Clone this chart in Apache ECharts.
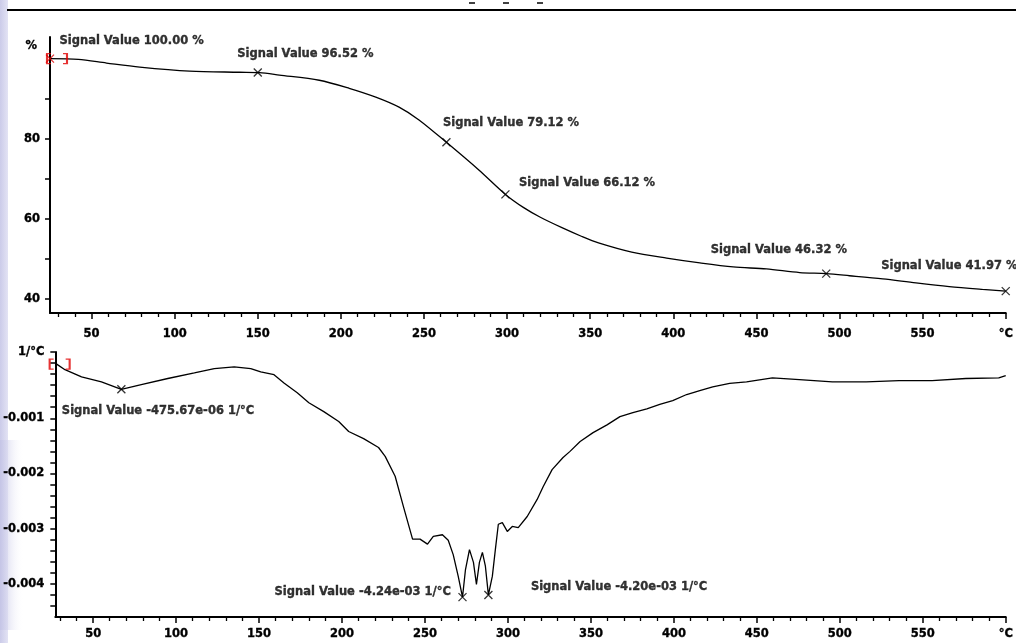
<!DOCTYPE html>
<html>
<head>
<meta charset="utf-8">
<script src="https://cdn.jsdelivr.net/npm/echarts@6/dist/echarts.min.js"></script>
<style>html,body{margin:0;padding:0;background:#fff;}#c{width:1016px;height:643px;}</style>
</head>
<body>
<div id="c"></div>
<script>
// ---- TGA curve (mass %, vs temperature °C)
const tgaTemp = [25, 42, 59, 79, 109, 139, 151, 163, 187, 205, 221, 235, 247, 263.5, 283, 299, 310, 320, 333, 345, 355, 375, 396, 416, 436, 456, 476, 492, 506, 526, 546, 566, 586, 600];
const tgaMass = [100.0, 99.8, 98.9, 97.9, 96.9, 96.6, 96.5, 95.9, 94.6, 92.6, 90.4, 87.9, 84.7, 79.1, 72.2, 66.1, 62.8, 60.4, 57.8, 55.6, 54.0, 51.7, 50.2, 49.0, 48.0, 47.5, 46.6, 46.32, 45.8, 45.0, 44.0, 43.1, 42.4, 41.97];

// ---- DTG curve (1/°C)
const dtgTemp = [28, 33, 43, 55, 67, 79, 95, 111, 123, 135, 145, 151, 159, 165, 173, 180, 189, 198, 204, 213, 222, 226, 232, 237, 242.5, 247, 251.5, 255, 260.5, 264, 267, 270, 272.6, 274.4, 276.8, 279.2, 281, 282.8, 284.6, 286.4, 288.2, 290.6, 292.4, 294.2, 296.6, 299.6, 302.6, 306.2, 311.6, 317.6, 321.2, 326.6, 333.2, 337.4, 343.5, 351.3, 359.7, 367.5, 375.3, 383.7, 391.5, 399.3, 407.7, 415.6, 423.4, 433.6, 443.8, 459.4, 475.6, 495.5, 515.9, 535.7, 555.6, 576, 595.8, 600];
const dtgRate = [-0.00002, -0.00012, -0.00025, -0.00034, -0.000476, -0.00039, -0.00028, -0.00018, -0.00010, -0.00007, -0.00010, -0.00016, -0.00021, -0.00036, -0.00054, -0.00072, -0.00088, -0.00106, -0.00124, -0.00137, -0.00153, -0.00169, -0.00205, -0.00260, -0.00319, -0.00319, -0.00328, -0.00314, -0.00311, -0.00321, -0.00347, -0.00386, -0.00424, -0.00374, -0.00338, -0.00361, -0.00401, -0.00361, -0.00343, -0.00368, -0.00420, -0.00386, -0.00338, -0.00292, -0.00289, -0.00305, -0.00296, -0.00298, -0.00278, -0.00247, -0.00224, -0.00193, -0.00171, -0.00160, -0.00142, -0.00126, -0.00112, -0.00097, -0.00090, -0.00083, -0.00075, -0.00068, -0.00057, -0.00050, -0.00043, -0.00037, -0.00034, -0.00027, -0.00030, -0.00034, -0.00034, -0.00032, -0.00032, -0.00028, -0.00027, -0.00023];

// ---- annotated points
const tgaMarkTemp = [25, 150, 263.5, 299, 492, 600];
const tgaMarkMass = [100.00, 96.52, 79.12, 66.12, 46.32, 41.97];
const tgaMarkText = ['Signal Value 100.00 %', 'Signal Value 96.52 %', 'Signal Value 79.12 %', 'Signal Value 66.12 %', 'Signal Value 46.32 %', 'Signal Value 41.97 %'];
const dtgMarkTemp = [67, 272.6, 288.2];
const dtgMarkRate = [-0.00047567, -0.00424, -0.00420];
const dtgMarkText = ['Signal Value -475.67e-06 1/°C', 'Signal Value -4.24e-03 1/°C', 'Signal Value -4.20e-03 1/°C'];

// ---- ticks and tick labels
const xMajorTicks = [50, 100, 150, 200, 250, 300, 350, 400, 450, 500, 550, 600];
const xTickLabels = ['50', '100', '150', '200', '250', '300', '350', '400', '450', '500', '550', '°C'];
const xMinorTicks = [30, 40, 60, 70, 80, 90, 110, 120, 130, 140, 160, 170, 180, 190, 210, 220, 230, 240, 260, 270, 280, 290, 310, 320, 330, 340, 360, 370, 380, 390, 410, 420, 430, 440, 460, 470, 480, 490, 510, 520, 530, 540, 560, 570, 580, 590];
const tgaYTicks = [40, 50, 60, 70, 80, 90];
const tgaYLabelValues = [40, 60, 80];
const tgaYLabels = ['40', '60', '80'];
const dtgYTicks = [-0.0044, -0.0042, -0.004, -0.0038, -0.0036, -0.0034, -0.0032, -0.003, -0.0028, -0.0026, -0.0024, -0.0022, -0.002, -0.0018, -0.0016, -0.0014, -0.0012, -0.001, -0.0008, -0.0006, -0.0004, -0.0002, 0, 0.0002];
const dtgYLabelValues = [-0.004, -0.003, -0.002, -0.001, 0.0002];
const dtgYLabels = ['-0.004', '-0.003', '-0.002', '-0.001', '1/°C'];

// ---- styles (not data)
const FONT = 'DejaVu Sans';
const tgaLabelOffset = [[12, -15, 'left'], [-18, -16, 'left'], [-1, -17, 'left'], [16, -9, 'left'], [-113, -21, 'left'], [-122, -23, 'left']];
const dtgLabelOffset = [[-57, 24, 'left'], [-9, -3, 'right'], [45, -5, 'left']];
const crossPath = 'path://M0,0L10,10M10,0L0,10';
const bracketPath = 'path://M4,0L0,0L0,10L4,10M16,0L20,0L20,10L16,10';
const textStyle = { fontFamily: FONT, fontWeight: 'bold', fontSize: 11.5, color: '#000', textBorderColor: '#000', textBorderWidth: 0.35 };

function pair(xs, ys) { return xs.map((x, i) => [x, ys[i]]); }
function lookup(vals, labels) {
  return function (v) {
    for (let i = 0; i < vals.length; i++) if (Math.abs(vals[i] - v) < 1e-9) return labels[i];
    return '';
  };
}
function markData(xs, ys, texts, offs, sz, firstRed) {
  return xs.map((x, i) => ({
    value: [x, ys[i]],
    itemStyle: (firstRed && i === 0) ? { color: 'none', borderColor: '#e00000', borderWidth: 1.3 } : undefined,
    label: {
      show: true, formatter: texts[i],
      position: [offs[i][0] + sz / 2, offs[i][1] + sz / 2],
      align: offs[i][2], verticalAlign: 'middle',
      ...textStyle
    }
  }));
}

const lineStyleAxis = { color: '#000', width: 2 };

function xMain(gridIndex, min, margin) {
  return {
    type: 'value', gridIndex, min, max: 600, position: 'bottom',
    axisLine: { show: true, onZero: false, lineStyle: lineStyleAxis },
    axisTick: { show: true, customValues: xMajorTicks, length: 6, lineStyle: { color: '#000', width: 1.5 } },
    axisLabel: { show: true, customValues: xMajorTicks, formatter: lookup(xMajorTicks, xTickLabels), margin, ...textStyle },
    splitLine: { show: false }
  };
}
function xMinor(gridIndex, min) {
  return {
    type: 'value', gridIndex, min, max: 600, position: 'bottom', offset: 0,
    axisLine: { show: false, onZero: false },
    axisTick: { show: true, customValues: xMinorTicks, length: 4, lineStyle: { color: '#000', width: 1.3 } },
    axisLabel: { show: false },
    splitLine: { show: false }
  };
}

const option = {
  animation: false,
  backgroundColor: '#ffffff',
  graphic: [
    { type: 'rect', z: -10, shape: { x: 0, y: 0, width: 8, height: 643 },
      style: { fill: { type: 'linear', x: 0, y: 0, x2: 1, y2: 0, colorStops: [{ offset: 0, color: '#cbcbe9' }, { offset: 1, color: '#e3e3f4' }] } } },
    { type: 'rect', z: -10, shape: { x: 0, y: 440, width: 24, height: 190 },
      style: { fill: { type: 'linear', x: 0, y: 0, x2: 1, y2: 0, colorStops: [{ offset: 0, color: 'rgba(196,196,230,0.9)' }, { offset: 1, color: 'rgba(255,255,255,0)' }] } } },
    { type: 'line', shape: { x1: 7, y1: 10, x2: 1016, y2: 10 }, style: { stroke: '#000', lineWidth: 2 } },
    { type: 'line', shape: { x1: 469, y1: 3, x2: 475, y2: 3 }, style: { stroke: '#000', lineWidth: 1.5 } },
    { type: 'line', shape: { x1: 503, y1: 3, x2: 509, y2: 3 }, style: { stroke: '#000', lineWidth: 1.5 } },
    { type: 'line', shape: { x1: 537, y1: 3, x2: 543, y2: 3 }, style: { stroke: '#000', lineWidth: 1.5 } }
  ],
  grid: [
    { left: 50, top: 37, width: 957, height: 276 },
    { left: 54, top: 352, width: 953, height: 265 }
  ],
  xAxis: [xMain(0, 25, 15), xMinor(0, 25), xMain(1, 27.2, 11), xMinor(1, 27.2)],
  yAxis: [
    {
      type: 'value', gridIndex: 0, min: 36.5, max: 105.4,
      name: '%', nameLocation: 'end', nameGap: -3,
      nameTextStyle: { ...textStyle, align: 'right', verticalAlign: 'top', padding: [0, 13, 0, 0] },
      axisLine: { show: true, lineStyle: lineStyleAxis },
      axisTick: { show: true, customValues: tgaYTicks, length: 5, lineStyle: { color: '#000', width: 1.5 } },
      axisLabel: { show: true, customValues: tgaYLabelValues, formatter: lookup(tgaYLabelValues, tgaYLabels), margin: 10, ...textStyle },
      splitLine: { show: false }
    },
    {
      type: 'value', gridIndex: 1, min: -0.0046, max: 0.0002,
      axisLine: { show: true, onZero: false, lineStyle: lineStyleAxis },
      axisTick: { show: true, customValues: dtgYTicks, length: 5, lineStyle: { color: '#000', width: 1.5 } },
      axisLabel: { show: true, customValues: dtgYLabelValues, formatter: lookup(dtgYLabelValues, dtgYLabels), margin: 11, ...textStyle },
      splitLine: { show: false }
    }
  ],
  series: [
    { type: 'line', xAxisIndex: 0, yAxisIndex: 0, data: pair(tgaTemp, tgaMass), showSymbol: false, smooth: 0.3,
      lineStyle: { color: '#000', width: 1.3 }, z: 3 },
    { type: 'scatter', xAxisIndex: 0, yAxisIndex: 0, symbol: crossPath, symbolSize: 8,
      itemStyle: { color: 'none', borderColor: '#000', borderWidth: 1.3 },
      data: markData(tgaMarkTemp, tgaMarkMass, tgaMarkText, tgaLabelOffset, 8, true), z: 4 },
    { type: 'scatter', xAxisIndex: 0, yAxisIndex: 0, symbol: bracketPath, symbolSize: [20, 10], symbolOffset: [7, 0],
      itemStyle: { color: 'none', borderColor: '#e00000', borderWidth: 1.5 },
      data: [[tgaTemp[0], tgaMass[0]]], z: 5 },
    { type: 'line', xAxisIndex: 2, yAxisIndex: 1, data: pair(dtgTemp, dtgRate), showSymbol: false, smooth: false,
      lineStyle: { color: '#000', width: 1.3 }, z: 3 },
    { type: 'scatter', xAxisIndex: 2, yAxisIndex: 1, symbol: crossPath, symbolSize: 8,
      itemStyle: { color: 'none', borderColor: '#000', borderWidth: 1.3 },
      data: markData(dtgMarkTemp, dtgMarkRate, dtgMarkText, dtgLabelOffset, 8, false), z: 4 },
    { type: 'scatter', xAxisIndex: 2, yAxisIndex: 1, symbol: bracketPath, symbolSize: [20, 10], symbolOffset: [3, 0],
      itemStyle: { color: 'none', borderColor: '#e00000', borderWidth: 1.5 },
      data: [[dtgTemp[0], dtgRate[0]]], z: 5 }
  ]
};

const chart = echarts.init(document.getElementById('c'), null, { renderer: 'canvas' });
chart.setOption(option);
</script>
</body>
</html>
